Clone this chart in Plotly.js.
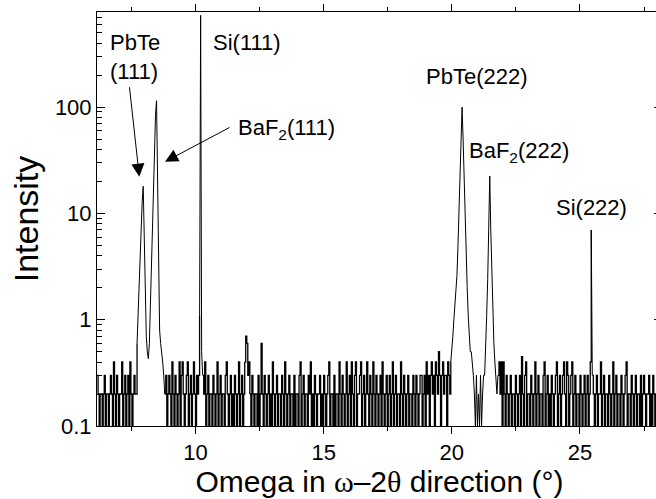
<!DOCTYPE html>
<html>
<head>
<meta charset="utf-8">
<script src="https://cdn.plot.ly/plotly-3.0.1.min.js"></script>
<style>html,body{margin:0;padding:0;overflow:hidden;background:#fff}</style>
</head>
<body>
<div id="chart"></div>
<script>
// Scan step (degrees) and the start angle of each scan segment
const scanStep = 0.04;
const segmentStarts = [6.16, 7.72, 8.80, 10.16, 10.28, 11.92, 12.12, 19.96, 21.80, 25.44, 25.48];
// 'hv' = counting-noise stretch drawn as steps, 'linear' = Bragg peak
const segmentShapes = ['hv', 'linear', 'hv', 'linear', 'hv', 'hv', 'hv', 'linear', 'hv', 'linear', 'hv'];

// Intensity values, segment by segment
const noiseA = [.3,.2,.1,.2,.2,.1,.2,.3,.1,.2,
                .2,.1,.2,.3,.2,.1,.4,.2,.1,.3,
                .2,.1,.2,.2,.4,.1,.2,.3,.1,.2,
                .3,.1,.4,.2,.1,.2,.3,.2,.2];
const peaks111 = [.6,1.2,2.4,4.5,8,13,18,6,1.6,.7,
                  .5,.43,.6,1.5,4,10,24,50,85,115,
                  25,3,.8,.6,.5,.4,.3];
const noiseB = [.2,.3,.1,.2,.3,.2,.1,.4,.2,.1,
                .3,.2,.1,.2,.4,.1,.3,.4,.2,.1,
                .2,.3,.4,.1,.2,.3,.1,.2,.4,.2,
                .1,.3,.2,.3];
const si111 = [1.1,730,.5];
const noiseC = [.3,.2,.4,.1,.2,.3,.1,.2,.2,.1,
                .3,.2,.1,.2,.4,.1,.2,.3,.1,.2,
                .2,.1,.3,.4,.2,.1,.2,.3,.1,.2,
                .1,.3,.2,.1,.2,.4,.1,.2,.3,.1,
                .2];
const bump12 = [.4,.7,.6,.3,.4];
const noiseD = [.2,.1,.3,.2,.1,.2,.2,.1,.3,.1,
                .2,.6,.2,.1,.3,.2,.1,.2,.3,.1,
                .2,.1,.4,.2,.1,.2,.3,.1,.2,.2,
                .1,.3,.2,.1,.4,.2,.1,.2,.3,.1,
                .2,.2,.1,.3,.1,.2,.2,.1,.3,.4,
                .1,.2,.3,.1,.2,.2,.1,.3,.2,.4,
                .1,.2,.1,.3,.2,.1,.2,.2,.3,.1,
                .2,.1,.3,.2,.1,.2,.3,.4,.1,.2,
                .2,.1,.3,.1,.2,.2,.1,.4,.2,.1,
                .3,.2,.1,.2,.4,.1,.2,.3,.1,.4,
                .2,.1,.3,.4,.1,.2,.2,.3,.4,.1,
                .2,.3,.1,.2,.4,.2,.1,.3,.2,.1,
                .4,.2,.1,.3,.2,.1,.2,.3,.1,.4,
                .2,.1,.2,.3,.1,.2,.3,.1,.2,.4,
                .1,.2,.3,.1,.2,.2,.1,.4,.2,.1,
                .3,.2,.1,.2,.3,.1,.2,.2,.1,.3,
                .2,.1,.3,.2,.1,.2,.3,.3,.1,.2,
                .3,.1,.4,.2,.3,.1,.3,.4,.2,.3,
                .1,.4,.3,.2,.5,.3,.1,.3,.4,.2,
                .3,.3,.1,.4,.3,.2];
const peaks222 = [.4,.5,.7,1.0,1.4,2.0,2.6,5,10,22,
                  50,100,50,20,8,3.5,2.0,1.1,.7,.5,
                  .5,.4,.3,.2,.1,.3,.1,.2,.1,.3,
                  .1,.2,.3,.3,.5,1.1,2.4,7.5,22.5,7,
                  2.8,1.4,.6,.4,.3,.2];
const noiseE = [.3,.4,.2,.4,.1,.4,.2,.1,.3,.2,
                .1,.2,.3,.1,.2,.2,.1,.3,.2,.1,
                .2,.3,.1,.45,.2,.1,.3,.4,.1,.2,
                .2,.1,.3,.2,.1,.2,.4,.1,.2,.3,
                .1,.2,.2,.1,.3,.4,.1,.2,.3,.1,
                .2,.1,.3,.2,.1,.2,.3,.4,.1,.2,
                .3,.1,.2,.3,.4,.2,.1,.4,.3,.1,
                .2,.3,.4,.1,.2,.3,.1,.2,.2,.1,
                .3,.2,.1,.2,.3,.1,.2,.3,.1,.2,
                .4];
const si222 = [7];
const noiseF = [.3,.2,.1,.2,.3,.1,.2,.2,.4,.1,
                .2,.3,.1,.2,.2,.1,.3,.2,.1,.2,
                .4,.1,.2,.3,.1,.2,.2,.1,.3,.2,
                .1,.2,.3,.4,.1,.2,.2,.1,.3,.2,
                .1,.2,.3,.1,.2,.2,.1,.3,.1,.2,
                .3,.2,.1,.2,.2,.3,.1,.2,.1,.3,
                .2,.1,.2,.3,.1,.2,.1,.3,.2];

const segments = [noiseA, peaks111, noiseB, si111, noiseC, bump12, noiseD, peaks222, noiseE, si222, noiseF];

const FONT = 'Arial, "Liberation Sans", sans-serif';
const xRange = [6.157, 28.2];
const yRange = [-1, 2.895];

// one trace per segment; each also carries the next segment's first point so the curve is continuous
const traces = segments.map((seg, s) => {
  const x = seg.map((v, k) => +(segmentStarts[s] + k * scanStep).toFixed(2));
  const y = seg.slice();
  if (s + 1 < segments.length) {
    x.push(segmentStarts[s + 1]);
    y.push(segments[s + 1][0]);
  }
  const isNoise = segmentShapes[s] === 'hv';
  return {x, y, type: 'scatter', mode: 'lines',
          line: {color: '#000', width: isNoise ? 1.3 : 1, shape: segmentShapes[s]},
          hoverinfo: 'skip', showlegend: false};
});

const annFont = {family: FONT, size: 22, color: '#000'};
const serif = "font-family:'Liberation Serif','Times New Roman',serif";
const layout = {
  width: 663, height: 499,
  margin: {l: 97, r: 1, t: 12, b: 73},
  showlegend: false,
  paper_bgcolor: '#fff',
  plot_bgcolor: '#fff',
  xaxis: {
    range: xRange, showgrid: false, zeroline: false, automargin: false,
    showline: true, linecolor: '#000', linewidth: 1, mirror: 'ticks',
    dtick: 5, tick0: 0,
    ticks: 'outside', ticklen: 7, tickwidth: 1, tickcolor: '#000',
    minor: {dtick: 2.5, tick0: 0, ticks: 'outside', ticklen: 4},
    tickfont: {family: FONT, size: 22, color: '#000'},
    title: {text: 'Omega in <span style="' + serif + '">ω</span>–2<span style="' + serif + '">θ</span> direction (°)',
            font: {family: FONT, size: 30, color: '#000'}, standoff: 3}
  },
  yaxis: {
    type: 'log', range: yRange, showgrid: false, zeroline: false, automargin: false,
    showline: true, linecolor: '#000', linewidth: 1, mirror: 'ticks',
    dtick: 1,
    ticks: 'inside', ticklen: 8, tickwidth: 1, tickcolor: '#000',
    minor: {dtick: 'D1', ticks: 'inside', ticklen: 5},
    tickfont: {family: FONT, size: 22, color: '#000'},
    title: {text: 'Intensity', font: {family: FONT, size: 34, color: '#000'}, standoff: 5}
  },
  annotations: [
    {xref: 'paper', yref: 'paper', x: 0.0749, y: 0.6022, ax: -10, ay: -91, text: '',
     showarrow: true, arrowhead: 2, arrowsize: 2.6, arrowwidth: 1, arrowcolor: '#000', standoff: 0},
    {xref: 'paper', yref: 'paper', x: 0.1204, y: 0.6384, ax: 66, ay: -35, text: '',
     showarrow: true, arrowhead: 2, arrowsize: 2.6, arrowwidth: 1, arrowcolor: '#000', standoff: 0},
    {xref: 'paper', yref: 'paper', x: 0.020, y: 0.8925, xanchor: 'left', yanchor: 'middle', align: 'left',
     text: 'PbTe<br>(111)', showarrow: false, font: annFont},
    {xref: 'paper', yref: 'paper', x: 0.201, y: 0.9275, xanchor: 'left', yanchor: 'middle',
     text: 'Si(111)', showarrow: false, font: annFont},
    {xref: 'paper', yref: 'paper', x: 0.246, y: 0.717, xanchor: 'left', yanchor: 'middle',
     text: 'BaF<sub>2</sub>(111)', showarrow: false, font: annFont},
    {xref: 'paper', yref: 'paper', x: 0.579, y: 0.8454, xanchor: 'left', yanchor: 'middle',
     text: 'PbTe(222)', showarrow: false, font: annFont},
    {xref: 'paper', yref: 'paper', x: 0.655, y: 0.662, xanchor: 'left', yanchor: 'middle',
     text: 'BaF<sub>2</sub>(222)', showarrow: false, font: annFont},
    {xref: 'paper', yref: 'paper', x: 0.808, y: 0.5266, xanchor: 'left', yanchor: 'middle',
     text: 'Si(222)', showarrow: false, font: annFont}
  ]
};

Plotly.newPlot('chart', traces, layout, {displayModeBar: false});
</script>
</body>
</html>
